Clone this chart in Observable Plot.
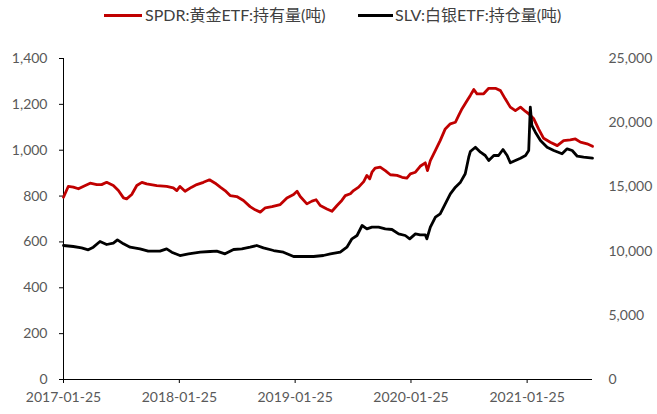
<!DOCTYPE html>
<html>
<head>
<meta charset="utf-8">
<script src="https://cdn.jsdelivr.net/npm/d3@7"></script>
<script src="https://cdn.jsdelivr.net/npm/@observablehq/plot@0.6"></script>
<style>
  body { margin: 0; background: #fff; }
  #legend { position: relative; width: 657px; height: 30px; font-family: Lato, "Noto Sans CJK SC", sans-serif; font-size: 16px; color: #404040; }
  .item { position: absolute; top: 5px; height: 20px; line-height: 20px; white-space: nowrap; }
  .swatch { position: absolute; top: 14px; height: 3px; }
</style>
</head>
<body>
<div id="legend"></div>
<div id="chart"></div>
<script>
// Series names
const seriesNames = ["SPDR:黄金ETF:持有量(吨)", "SLV:白银ETF:持仓量(吨)"];
const seriesColors = ["#C00000", "#000000"];

// SPDR gold holdings (tonnes, left axis)
const goldDates = ["2017-01-25","2017-02-09","2017-02-25","2017-03-13","2017-03-28","2017-04-19","2017-05-10","2017-05-25","2017-06-10","2017-07-01","2017-07-17","2017-08-02","2017-08-12","2017-08-28","2017-09-13","2017-09-29","2017-10-14","2017-11-15","2017-12-16","2018-01-06","2018-01-17","2018-01-27","2018-02-12","2018-03-05","2018-03-21","2018-04-11","2018-04-30","2018-05-18","2018-06-03","2018-06-18","2018-07-04","2018-07-25","2018-08-15","2018-09-05","2018-09-21","2018-10-07","2018-10-23","2018-11-13","2018-12-09","2018-12-30","2019-01-20","2019-01-31","2019-02-10","2019-03-03","2019-03-19","2019-04-01","2019-04-14","2019-05-05","2019-05-21","2019-06-06","2019-06-21","2019-07-02","2019-07-18","2019-07-28","2019-08-13","2019-08-29","2019-09-08","2019-09-17","2019-09-24","2019-10-04","2019-10-20","2019-11-05","2019-11-21","2019-12-12","2019-12-28","2020-01-12","2020-01-23","2020-02-08","2020-02-23","2020-03-10","2020-03-17","2020-03-26","2020-04-11","2020-04-26","2020-05-12","2020-05-28","2020-06-13","2020-06-23","2020-07-04","2020-07-20","2020-07-30","2020-08-10","2020-08-20","2020-09-10","2020-09-26","2020-10-17","2020-11-02","2020-11-17","2020-12-03","2020-12-19","2021-01-04","2021-01-20","2021-01-30","2021-02-15","2021-03-02","2021-03-18","2021-04-08","2021-04-30","2021-05-20","2021-06-10","2021-06-26","2021-07-12","2021-08-02","2021-08-19"];
const goldValues = [795,842,839,832,842,856,850,850,860,846,824,792,788,807,846,860,853,846,842,836,824,842,821,839,850,860,871,856,839,824,802,798,781,754,740,730,749,754,763,792,807,821,798,766,778,784,759,744,734,759,781,802,810,824,839,863,890,875,904,922,926,911,893,890,882,878,897,904,930,945,911,955,999,1042,1093,1115,1122,1151,1181,1217,1239,1265,1246,1246,1270,1270,1260,1224,1188,1173,1188,1169,1159,1137,1093,1052,1035,1020,1042,1045,1049,1035,1028,1017];

// SLV silver holdings (tonnes, right axis)
const silverDates = ["2017-01-25","2017-02-25","2017-03-23","2017-04-13","2017-04-29","2017-05-20","2017-06-10","2017-07-01","2017-07-14","2017-08-02","2017-08-23","2017-09-23","2017-10-19","2017-11-25","2017-12-16","2018-01-01","2018-01-27","2018-02-23","2018-04-01","2018-05-02","2018-05-23","2018-06-18","2018-07-15","2018-08-10","2018-09-05","2018-09-26","2018-10-17","2018-11-18","2018-12-19","2019-01-20","2019-02-20","2019-03-24","2019-04-24","2019-05-16","2019-06-16","2019-07-07","2019-07-23","2019-08-08","2019-08-24","2019-09-08","2019-09-24","2019-10-15","2019-11-05","2019-11-26","2019-12-17","2020-01-07","2020-01-21","2020-02-08","2020-02-23","2020-03-10","2020-03-15","2020-03-26","2020-04-11","2020-04-26","2020-05-12","2020-05-28","2020-06-13","2020-06-29","2020-07-14","2020-07-25","2020-07-30","2020-08-15","2020-08-31","2020-09-15","2020-09-26","2020-10-12","2020-10-27","2020-11-10","2020-11-23","2020-12-03","2020-12-19","2021-01-04","2021-01-20","2021-01-30","2021-02-04","2021-02-09","2021-02-20","2021-03-08","2021-03-29","2021-04-19","2021-05-15","2021-05-31","2021-06-16","2021-07-02","2021-07-22","2021-08-19"];
const silverValues = [10436,10358,10254,10098,10306,10747,10514,10617,10877,10566,10306,10176,9993,9993,10176,9916,9657,9786,9916,9968,9993,9786,10124,10176,10306,10436,10254,10046,9916,9579,9579,9579,9657,9790,9916,10306,10955,11215,11994,11734,11864,11864,11734,11682,11345,11215,10955,11345,11267,11267,10955,11864,12643,12903,13682,14461,14980,15369,16019,17313,17756,18092,17701,17445,17056,17445,17445,17912,17445,16876,17056,17235,17445,17834,21207,19781,19261,18613,18092,17834,17577,17967,17834,17390,17313,17235];

// Axis ticks
const xTicks = ["2017-01-25","2018-01-25","2019-01-25","2020-01-25","2021-01-25"];
const leftTicks = [0,200,400,600,800,1000,1200,1400];
const rightTicks = [0,5000,10000,15000,20000,25000];
const leftMax = 1400, rightMax = 25000;
const xStart = "2017-01-25", xEnd = "2021-08-19";

const parse = d3.utcParse("%Y-%m-%d");
const k = leftMax / rightMax;
const gold = goldDates.map((d, i) => ({date: parse(d), value: goldValues[i]}));
const silver = silverDates.map((d, i) => ({date: parse(d), value: silverValues[i] * k}));

// Legend
const legend = document.getElementById("legend");
const pos = [{sw: 104, sww: 38, tx: 145}, {sw: 358, sww: 35, tx: 395}];
seriesNames.forEach((name, i) => {
  const s = document.createElement("div");
  s.className = "swatch";
  s.style.left = pos[i].sw + "px";
  s.style.width = pos[i].sww + "px";
  s.style.background = seriesColors[i];
  legend.appendChild(s);
  const t = document.createElement("div");
  t.className = "item";
  t.style.left = pos[i].tx + "px";
  t.textContent = name;
  legend.appendChild(t);
});

const fmt = d3.format(",");
const chart = Plot.plot({
  width: 657,
  height: 384,
  marginTop: 28,
  marginBottom: 35,
  marginLeft: 63,
  marginRight: 65,
  style: {fontFamily: "Lato, sans-serif", fontSize: "14px", background: "#fff"},
  x: {type: "utc", domain: [parse(xStart), parse(xEnd)]},
  y: {domain: [0, leftMax]},
  marks: [
    Plot.axisY({anchor: "left", ticks: leftTicks, tickFormat: fmt, tickSize: 4, tickPadding: 12, stroke: "#000", fill: "#595959", label: null}),
    Plot.axisY({anchor: "right", ticks: rightTicks.map(v => v * k), tickFormat: d => fmt(Math.round(d / k)), tickSize: 0, tickPadding: 16, fill: "#595959", textAnchor: "start", label: null}),
    Plot.axisX({ticks: xTicks.map(parse), tickFormat: d3.utcFormat("%Y-%m-%d"), tickSize: 4, tickPadding: 9, stroke: "#000", fill: "#595959", label: null}),
    Plot.ruleX([parse(xStart)], {stroke: "#000", strokeWidth: 1}),
    Plot.ruleY([0], {stroke: "#000", strokeWidth: 1}),
    Plot.line(gold, {x: "date", y: "value", stroke: seriesColors[0], strokeWidth: 2.8}),
    Plot.line(silver, {x: "date", y: "value", stroke: seriesColors[1], strokeWidth: 2.8})
  ]
});
document.getElementById("chart").appendChild(chart);
</script>
</body>
</html>
